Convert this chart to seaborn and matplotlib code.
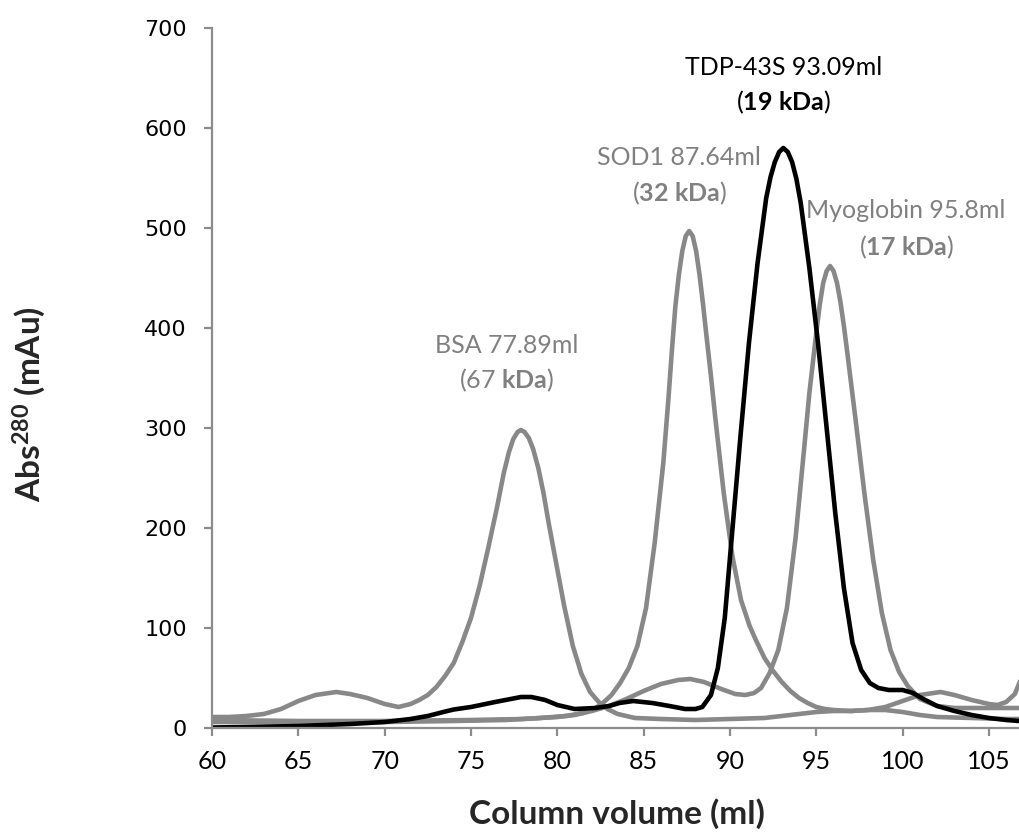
import matplotlib
matplotlib.use("Agg")
import matplotlib.pyplot as plt
import pandas as pd
import seaborn as sns

# ---- elution profiles (column volume in ml, A280 in mAu) ----
bsa_ml = [60, 61, 62, 63, 64, 65, 66, 67.2, 68, 69, 70, 70.8, 71.5, 72, 72.5, 73, 73.5, 74,
          74.5, 75, 75.5, 76, 76.5, 76.9, 77.2, 77.45, 77.7, 77.89, 78.1, 78.35, 78.6, 78.9,
          79.2, 79.5, 79.9, 80.4, 80.9, 81.4, 81.9, 82.4, 82.9, 83.5, 84.5, 86, 88, 90, 92,
          93, 94, 95, 96, 97, 98, 99, 100, 101, 102, 104, 106, 107.5]
bsa_abs = [11, 11, 12, 14, 19, 27, 33, 36, 34, 30, 24, 21, 24, 28, 33, 41, 52, 65, 86, 110,
           142, 180, 220, 255, 276, 289, 296, 298, 296, 290, 279, 260, 235, 205, 168, 122, 82,
           54, 36, 26, 19, 14, 10, 9, 8, 9, 10, 12, 14, 16, 17, 17, 18, 18, 16, 13, 11, 10, 9, 9]

sod1_ml = [60, 65, 70, 74, 77, 79, 80.5, 81.5, 82.14, 82.64, 83.14, 83.64, 84.14, 84.64, 85.14,
           85.64, 86.14, 86.44, 86.64, 86.84, 87.04, 87.24, 87.44, 87.64, 87.84, 88.04, 88.24,
           88.44, 88.64, 88.9, 89.14, 89.64, 90.14, 90.64, 91.14, 91.5, 92, 92.5, 93, 93.5, 94,
           94.5, 95, 95.5, 96, 97, 98, 99, 100, 101, 102.2, 103, 104, 105, 105.5, 106, 106.5,
           107, 107.5]
sod1_abs = [6, 6, 6, 7, 8, 10, 12, 15, 19, 25, 33, 45, 60, 82, 120, 185, 265, 330, 378, 422,
            453, 477, 492, 497, 492, 477, 453, 424, 392, 352, 312, 235, 172, 128, 102, 88, 70,
            57, 46, 37, 30, 25, 21, 19, 18, 17, 18, 21, 27, 33, 36, 33, 28, 24, 23, 26, 34, 55,
            80]

myo_ml = [60, 65, 70, 75, 78, 80, 81, 82, 83, 84, 85, 86, 87, 87.7, 88.5, 89.5, 90.3, 90.9,
          91.4, 91.8, 92.3, 92.8, 93.3, 93.8, 94.3, 94.6, 94.8, 95.0, 95.2, 95.4, 95.6, 95.8,
          96.0, 96.2, 96.4, 96.6, 96.8, 97.05, 97.3, 97.8, 98.3, 98.8, 99.3, 99.8, 100.3, 101,
          102, 103, 105, 107.5]
myo_abs = [8, 7, 7, 8, 9, 11, 13, 17, 22, 29, 37, 44, 48, 49, 46, 39, 34, 33, 35, 40, 55, 78,
           120, 190, 280, 335, 365, 395, 423, 445, 457, 462, 457, 445, 426, 402, 375, 340, 305,
           233, 168, 115, 78, 56, 42, 29, 22, 20, 20, 20]

tdp_ml = [60, 62, 65, 68, 70, 71.5, 72.5, 73.4, 74, 75, 76.4, 77.3, 77.9, 78.5, 79.3, 80, 81,
          82.2, 83, 83.6, 84.4, 85.5, 86.5, 87.4, 88, 88.4, 88.9, 89.3, 89.7, 90.1, 90.6, 91.1,
          91.6, 92.1, 92.35, 92.6, 92.85, 93.09, 93.35, 93.6, 93.85, 94.1, 94.6, 95.1, 95.6,
          96.1, 96.6, 97.1, 97.6, 98.1, 98.6, 99.2, 100, 100.6, 101.2, 102, 103, 104, 105, 106,
          107.5]
tdp_abs = [0.5, 1, 2, 4, 6, 9, 12, 16, 18.5, 21, 26, 29, 31, 31, 28, 23, 19, 20, 22, 25, 27,
           25, 22, 19, 19, 21, 33, 60, 110, 190, 290, 385, 465, 530, 551, 566, 576, 580, 576,
           566, 549, 525, 460, 385, 300, 215, 140, 85, 58, 45, 40, 38, 38, 35, 29, 22, 17, 13,
           10, 8, 6]

# ---- peak annotations ----
peak_names = ["TDP-43S", "SOD1", "Myoglobin", "BSA"]
peak_volumes = ["93.09", "87.64", "95.8", "77.89"]
peak_kda = ["19", "32", "17", "67"]
x_ticks = [60, 65, 70, 75, 80, 85, 90, 95, 100, 105]
y_ticks = [0, 100, 200, 300, 400, 500, 600, 700]

samples = ["BSA", "SOD1", "Myoglobin", "TDP-43S"]

sns.set_theme(style="white")
plt.rcParams["font.family"] = ["Lato", "DejaVu Sans"]
plt.rcParams["mathtext.fontset"] = "custom"
plt.rcParams["mathtext.rm"] = "Lato"
plt.rcParams["mathtext.bf"] = "Lato:bold"
plt.rcParams["mathtext.it"] = "Lato:italic"

LINE_GRAY = "#888888"
TEXT_GRAY = "#808080"
AXIS_GRAY = "#8c8c8c"

frames = []
for name, ml, a in zip(samples, [bsa_ml, sod1_ml, myo_ml, tdp_ml],
                       [bsa_abs, sod1_abs, myo_abs, tdp_abs]):
    frames.append(pd.DataFrame({"volume": ml, "absorbance": a, "sample": name}))
df = pd.concat(frames, ignore_index=True)

fig = plt.figure(figsize=(10.2, 8.33), dpi=100)
ax = fig.add_axes([212 / 1020, 105 / 833, 808 / 1020, 700 / 833])

sns.lineplot(data=df, x="volume", y="absorbance", hue="sample", hue_order=samples,
             palette={"BSA": LINE_GRAY, "SOD1": LINE_GRAY, "Myoglobin": LINE_GRAY,
                      "TDP-43S": "black"},
             estimator=None, sort=False, linewidth=3.3, legend=False, ax=ax)
for ln in ax.lines:
    ln.set_solid_joinstyle("round")
    ln.set_solid_capstyle("round")

ax.set_xlim(60, 106.8)
ax.set_ylim(0, 700)
ax.set_xticks(x_ticks)
ax.set_yticks(y_ticks)
ax.set_xlabel("")
ax.set_ylabel("")
for side in ["top", "right"]:
    ax.spines[side].set_visible(False)
for side in ["left", "bottom"]:
    ax.spines[side].set_color(AXIS_GRAY)
    ax.spines[side].set_linewidth(1.6)
ax.tick_params(axis="both", which="major", direction="out", length=6, width=1.6,
               color=AXIS_GRAY, bottom=True, left=True, labelcolor="black")
ax.tick_params(axis="x", labelsize=18, pad=10)
ax.tick_params(axis="y", labelsize=16, pad=12)
for lab in ax.get_yticklabels():
    lab.set_fontfamily("DejaVu Sans")

fig.text(617 / 1020, 1 - 824 / 833, "Column volume (ml)", ha="center", va="baseline",
         fontsize=24, fontweight="bold")
fig.text(29 / 1020, 1 - 404 / 833, r"Abs$^{\mathbf{280}}$ (mAu)", rotation=90,
         ha="center", va="center", fontsize=24, fontweight="bold")

# label anchors: (x centre in ml, baseline of first line, baseline of second line)
anchors = [(93.1, 653, 618), (87.05, 563, 527), (100.2, 510, 473), (77.05, 375, 340)]
colors = ["black", TEXT_GRAY, TEXT_GRAY, TEXT_GRAY]
for name, vol, kda, (xc, y1, y2), col in zip(peak_names, peak_volumes, peak_kda, anchors, colors):
    ax.text(xc, y1, f"{name} {vol}ml", ha="center", va="baseline", fontsize=18, color=col)
    if name == "BSA":
        second = f"({kda} " + r"$\mathbf{kDa}$" + ")"
    else:
        second = r"($\mathbf{" + kda + r"\ kDa}$)"
    ax.text(xc, y2, second, ha="center", va="baseline", fontsize=18, color=col)

fig.savefig("out.png", dpi=100)
